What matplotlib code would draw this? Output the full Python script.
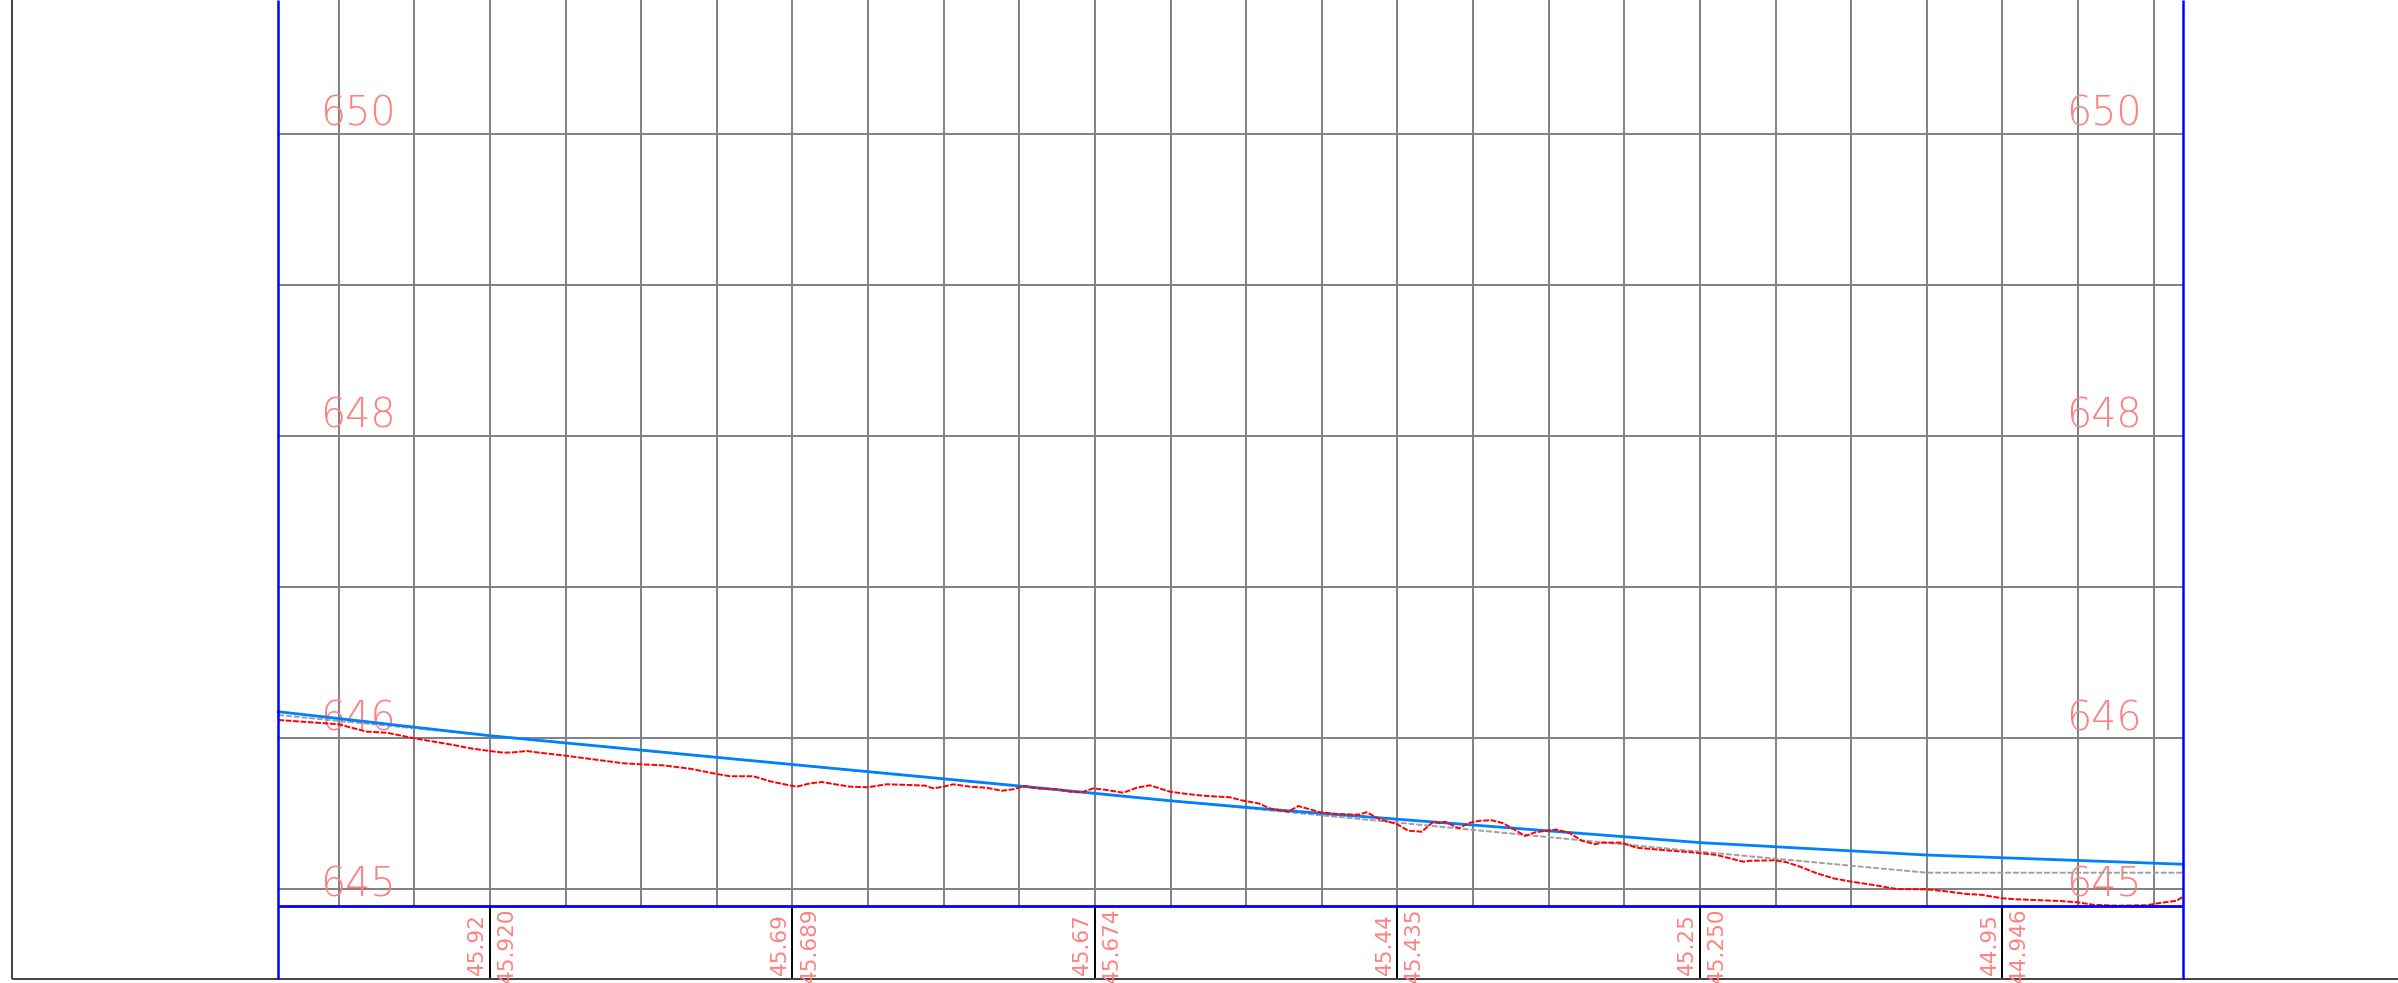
import numpy as np
import matplotlib.pyplot as plt

# ground profile (red dashed) - chainage [m], elevation [m]
ground_x = [0.00, 3.97, 5.85, 7.17, 8.99, 11.57, 12.68, 14.00, 14.88, 15.54,
            16.43, 17.09, 19.00, 21.49, 22.81, 23.98, 25.46, 27.22, 28.99, 29.87,
            31.41, 32.51, 33.99, 34.28, 35.16, 35.93, 36.70, 37.80, 38.97, 40.23,
            41.77, 42.76, 43.31, 43.97, 44.63, 45.74, 46.84, 47.83, 48.60, 49.38,
            50.15, 51.47, 52.35, 53.12, 53.89, 54.78, 55.87, 56.76, 57.64, 58.96,
            60.07, 61.17, 62.93, 63.81, 64.80, 65.58, 66.79, 67.45, 68.88, 69.99,
            71.42, 71.97, 72.85, 73.95, 74.72, 75.61, 76.37, 76.81, 77.15, 78.03,
            78.80, 79.46, 80.24, 81.00, 81.78, 82.44, 83.10, 83.87, 84.53, 85.41,
            86.19, 87.07, 87.51, 88.83, 89.82, 92.03, 93.79, 95.11, 96.87, 97.31,
            98.97, 99.74, 100.62, 101.73, 102.82, 104.00, 105.47, 107.02, 109.00, 110.54,
            111.64, 112.52, 114.00, 114.95, 117.81, 118.99, 120.02, 121.56, 123.55, 124.43,
            125.53, 125.95]
ground_z = [646.121, 646.093, 646.044, 646.037, 646.000, 645.956, 645.934, 645.916, 645.905, 645.907,
            645.916, 645.907, 645.885, 645.852, 645.835, 645.828, 645.821, 645.799, 645.764, 645.749,
            645.749, 645.716, 645.685, 645.680, 645.702, 645.711, 645.698, 645.680, 645.676, 645.696,
            645.691, 645.687, 645.669, 645.680, 645.696, 645.680, 645.673, 645.653, 645.663, 645.685,
            645.669, 645.663, 645.647, 645.643, 645.669, 645.658, 645.640, 645.673, 645.689, 645.647,
            645.632, 645.620, 645.610, 645.587, 645.570, 645.536, 645.515, 645.552, 645.511, 645.499,
            645.495, 645.511, 645.464, 645.433, 645.389, 645.382, 645.448, 645.438, 645.448, 645.405,
            645.442, 645.455, 645.458, 645.438, 645.394, 645.354, 645.378, 645.389, 645.396, 645.372,
            645.323, 645.299, 645.310, 645.310, 645.276, 645.257, 645.243, 645.228, 645.184, 645.190,
            645.193, 645.180, 645.151, 645.107, 645.074, 645.052, 645.030, 645.003, 645.001, 644.985,
            644.970, 644.966, 644.942, 644.935, 644.924, 644.915, 644.899, 644.893, 644.896, 644.911,
            644.926, 644.952]

# design line (blue)
design_x = [0.00, 14.00, 28.99, 48.98, 58.96, 65.58, 83.96, 94.01, 109.00, 125.95]
design_z = [646.176, 646.017, 645.874, 645.685, 645.587, 645.530, 645.388, 645.310, 645.228, 645.167]

# grade line (grey dashed)
grade_x = [0.00, 12.02, 58.96, 94.01, 109.00, 125.95]
grade_z = [646.154, 646.037, 645.587, 645.250, 645.111, 645.111]

grid_x = np.arange(4, 125, 5)
grid_z = [645, 646, 647, 648, 649, 650]
level_z = [650, 648, 646, 645]
level_txt = ["650", "648", "646", "645"]

stations = [14, 34, 54, 74, 94, 114]
short_txt = ["45.92", "45.69", "45.67", "45.44", "45.25", "44.95"]
long_txt = ["45.920", "45.689", "45.674", "45.435", "45.250", "44.946"]

x_lo, x_hi = -18.40, 140.16
z_lo, z_hi = 644.3816, 650.883
frame_r = 125.95
frame_b = 644.891
band_b = 644.408
outer_l = -17.61
pink = '#ff8080'

fig = plt.figure(figsize=(23.98, 9.83), dpi=100)
ax = fig.add_axes([0, 0, 1, 1])
ax.set_xlim(x_lo, x_hi)
ax.set_ylim(z_lo, z_hi)
ax.axis('off')

# grid
ax.vlines(grid_x, frame_b, z_hi, colors='#808080', lw=1.4, zorder=1)
ax.hlines(grid_z, 0, frame_r, colors='#808080', lw=1.4, zorder=1)
ax.vlines(stations, band_b, frame_b, colors='black', lw=1.4, zorder=1)

# outer frame and blue frame
ax.vlines(outer_l, band_b, z_hi, colors='#404040', lw=1.4)
ax.hlines(band_b, outer_l, x_hi, colors='#404040', lw=1.4)
ax.vlines([0, frame_r], band_b, z_hi, colors='#0000ff', lw=1.8, zorder=5)
ax.hlines(frame_b, 0, frame_r, colors='#0000ff', lw=2, zorder=5)

# level labels
for z, t in zip(level_z, level_txt):
    dy = -7 if z == 645 else 8
    for xc in (5.24, 120.74):
        ax.annotate(t, (xc, z), xytext=(0, dy), textcoords='offset pixels',
                    ha='center', va='baseline', fontsize=28.5, color=pink,
                    fontweight='light', zorder=2)

# profile lines
ax.plot(grade_x, grade_z, color='#a0a0a0', lw=1.4, ls=(0, (3, 1)), zorder=3)
ax.plot(design_x, design_z, color='#0080ff', lw=2, zorder=3.5)
ax.plot(ground_x, ground_z, color='red', lw=1.4, ls=(0, (3, 0.8)), zorder=4)

# station labels
for s, a, b in zip(stations, short_txt, long_txt):
    ax.annotate(a, (s, 644.4345), xytext=(-6.6, 0), textcoords='offset pixels',
                rotation=90, rotation_mode='anchor', ha='left', va='baseline',
                fontsize=15.5, color=pink)
    ax.annotate(b, (s, 644.884), xytext=(23, 0), textcoords='offset pixels',
                rotation=90, rotation_mode='anchor', ha='right', va='baseline',
                fontsize=15.5, color=pink)

plt.savefig('out.png', dpi=100)
